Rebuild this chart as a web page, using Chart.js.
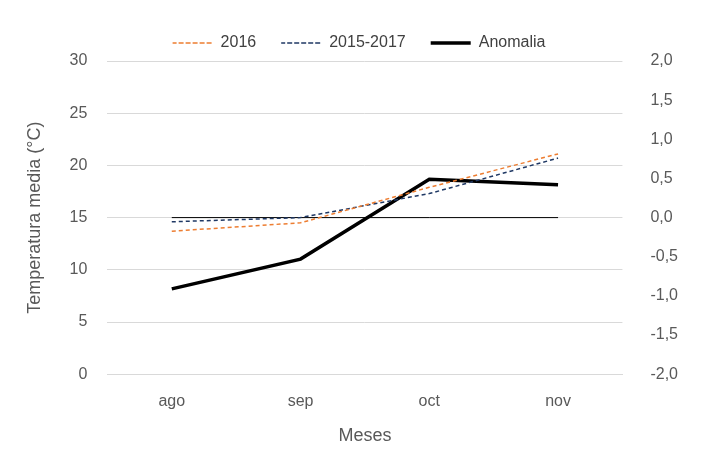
<!DOCTYPE html>
<html><head><meta charset="utf-8">
<script src="https://cdn.jsdelivr.net/npm/chart.js@4"></script>
<style>body{margin:0;background:#fff}#wrap{width:718px;height:461px}</style>
</head><body><div id="wrap"><canvas id="chart"></canvas></div>
<script>
const months = ["ago", "sep", "oct", "nov"];
const temp2016 = [13.7, 14.5, 17.9, 21.1];
const temp1517 = [14.6, 15.0, 17.3, 20.7];
const anomalia = [-0.91, -0.53, 0.49, 0.42];
const zeroLine = [0, 0, 0, 0];

Chart.defaults.font.family = "'Liberation Sans', Arial, sans-serif";
Chart.defaults.color = "#595959";

new Chart(document.getElementById("chart"), {
  type: "line",
  data: {
    labels: months,
    datasets: [
      { label: "2016", data: temp2016, yAxisID: "y", borderColor: "#ED7D31", borderWidth: 1.5, borderDash: [4, 3], pointRadius: 0 },
      { label: "2015-2017", data: temp1517, yAxisID: "y", borderColor: "#1F3864", borderWidth: 1.5, borderDash: [4, 3], pointRadius: 0 },
      { label: "Anomalia", data: anomalia, yAxisID: "y2", borderColor: "#000", borderWidth: 3.5, pointRadius: 0 },
      { label: "cero", data: zeroLine, yAxisID: "y2", borderColor: "#000", borderWidth: 1, pointRadius: 0 }
    ]
  },
  options: {
    responsive: true, maintainAspectRatio: false, animation: false,
    layout: { padding: { left: 20, right: 20, top: 10, bottom: 10 } },
    plugins: {
      legend: {
        position: "top",
        labels: {
          boxWidth: 40, boxHeight: 0,
          font: { size: 16 }, color: "#404040", padding: 25,
          filter: (item) => item.text !== "cero",
          generateLabels: (chart) => chart.data.datasets.map((ds, i) => ({
            text: ds.label, datasetIndex: i,
            fillStyle: "rgba(0,0,0,0)", strokeStyle: ds.borderColor,
            lineWidth: ds.borderWidth, lineDash: ds.borderDash || [],
            fontColor: "#404040"
          }))
        }
      },
      tooltip: { enabled: false }
    },
    scales: {
      x: {
        offset: true,
        grid: { display: false },
        border: { color: "#d9d9d9" },
        ticks: { font: { size: 16 }, padding: 10 },
        title: { display: true, text: "Meses", font: { size: 18 } }
      },
      y: {
        position: "left", min: 0, max: 30,
        ticks: { stepSize: 5, font: { size: 16 }, padding: 20 },
        grid: { color: "#d9d9d9", drawTicks: false },
        border: { display: false },
        title: { display: true, text: "Temperatura media (°C)", font: { size: 18 } }
      },
      y2: {
        position: "right", min: -2, max: 2,
        ticks: { stepSize: 0.5, font: { size: 16 }, padding: 20,
          callback: (v) => v.toFixed(1).replace(".", ",") },
        grid: { display: false },
        border: { display: false }
      }
    }
  }
});
</script></body></html>
